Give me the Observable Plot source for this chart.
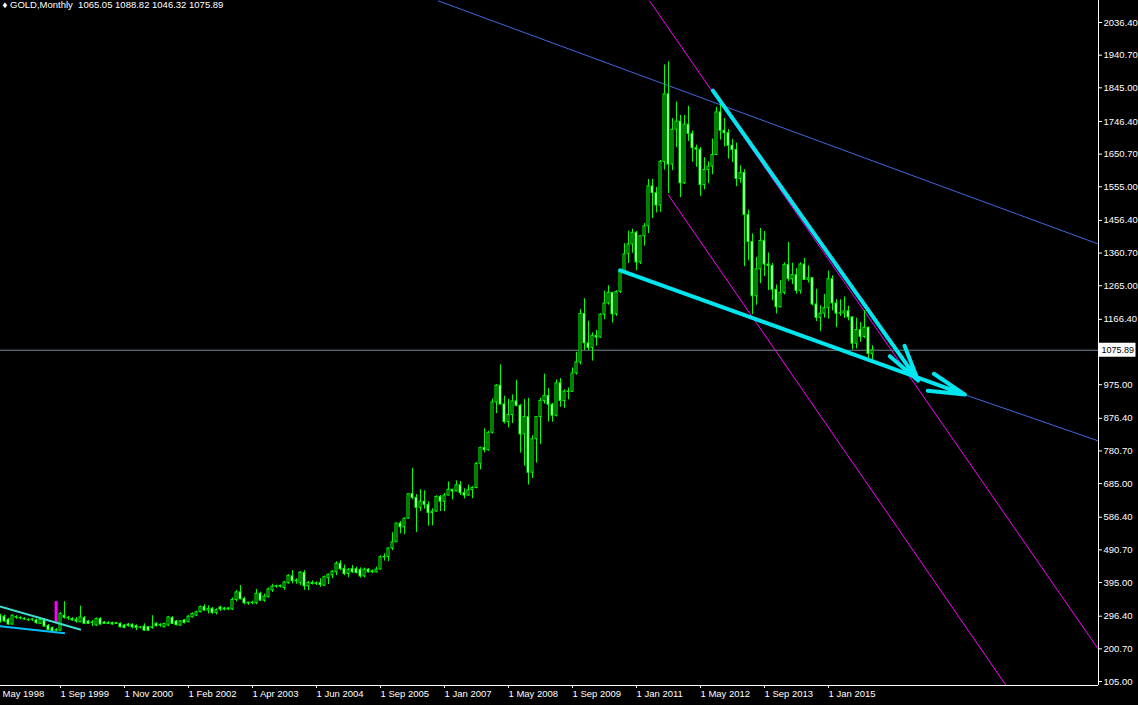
<!DOCTYPE html>
<html><head><meta charset="utf-8">
<script src="https://cdn.jsdelivr.net/npm/d3@7"></script>
<script src="https://cdn.jsdelivr.net/npm/@observablehq/plot@0.6"></script>
<style>
html,body{margin:0;padding:0;background:#000;}
#chart{width:1138px;height:705px;overflow:hidden;}
</style></head><body><div id="chart"></div>
<script>
// ---- data ----
const symbol = "GOLD,Monthly";
const firstBar = -1; // bar index of the first value below
const opens = [
 298,295,286,272,292,291,289,284,286,284,274,
 284,268,261,256,254,298,292,288,286,279,
 291,281,278,269,288,278,277,276,276,274,
 269,272,271,267,263,266,264,262,274,271,
 264,269,291,281,269,284,279,293,298,308,
 323,313,318,306,322,316,319,316,344,366,
 347,334,336,334,362,342,352,372,383,385,
 379,393,413,399,393,423,384,394,391,393,
 386,408,416,425,450,435,420,434,434,432,
 413,433,425,425,433,469,470,495,513,568,
 557,582,654,643,614,632,623,599,603,646,
 632,650,667,662,680,657,650,666,672,743,
 789,783,834,923,972,917,865,886,926,913,
 829,880,717,815,880,927,942,916,884,979,
 927,955,954,1008,1040,1182,1096,1083,1118,1113,
 1180,1213,1244,1181,1247,1307,1357,1386,1420,1333,
 1410,1439,1556,1536,1500,1628,1826,1620,1722,1746,
 1565,1737,1710,1668,1664,1560,1604,1614,1648,1773,
 1719,1712,1675,1663,1578,1595,1472,1393,1234,1313,
 1396,1327,1323,1253,1202,1244,1326,1284,1296,1250,
 1327,1282,1287,1210,1171,1183,1199,1284,1213,1183,
 1184,1190,1172,1095,1135,1115,1142,1065.05
];
const highs = [
 302,300,290,300,298,295,292,289,290,288,290,
 290,272,265,260,307,339,296,292,292,326,
 296,284,284,291,292,281,280,279,278,277,
 272,275,274,271,266,274,266,298,277,274,
 275,296,295,284,283,287,298,306,311,326,
 330,327,322,318,326,322,321,350,372,386,
 352,338,340,375,367,361,379,390,387,388,
 398,418,430,406,427,430,398,400,397,406,
 414,420,430,456,459,446,436,445,440,438,
 437,436,432,440,474,479,496,541,569,574,
 584,655,730,653,667,664,632,611,649,650,
 656,690,668,693,691,670,681,676,746,792,
 846,838,933,975,1033,941,932,945,988,917,
 931,935,825,881,935,1006,964,920,989,993,
 960,965,1024,1070,1195,1227,1161,1127,1134,1183,
 1249,1265,1245,1250,1310,1388,1425,1431,1424,1411,
 1447,1576,1577,1553,1632,1912,1921,1755,1803,1764,
 1764,1791,1718,1677,1670,1640,1628,1695,1788,1796,
 1755,1723,1694,1683,1616,1605,1487,1417,1348,1433,
 1424,1361,1330,1267,1280,1332,1392,1331,1315,1332,
 1345,1323,1288,1255,1206,1239,1308,1294,1224,1224,
 1232,1205,1174,1170,1157,1192,1143,1088.82
];
const lows = [
 276,278,270,270,287,286,284,281,281,273,272,
 264,254,250,251,252,288,284,282,276,277,
 272,272,266,266,270,272,272,270,272,262,
 260,264,259,254,259,252,252,258,265,264,
 262,266,272,268,267,274,277,291,296,306,
 310,303,302,300,310,312,313,313,338,344,
 330,328,330,330,340,337,350,366,378,379,
 372,390,391,390,386,372,371,388,386,381,
 384,389,406,415,430,415,409,422,420,408,
 409,423,421,423,432,458,456,489,513,538,
 535,580,638,542,603,610,560,561,601,603,
 603,649,637,661,650,640,648,641,670,725,
 775,780,830,890,914,860,848,861,910,774,
 736,681,700,745,800,918,866,865,880,909,
 905,931,953,1003,1033,1075,1075,1044,1088,1111,
 1165,1208,1156,1175,1242,1306,1330,1360,1309,1327,
 1381,1418,1462,1478,1480,1604,1535,1602,1670,1523,
 1562,1688,1627,1612,1527,1546,1564,1590,1646,1692,
 1672,1636,1626,1555,1565,1321,1338,1180,1208,1271,
 1292,1251,1221,1182,1200,1238,1277,1268,1240,1240,
 1281,1273,1206,1160,1131,1170,1167,1191,1142,1175,
 1169,1162,1077,1080,1099,1110,1052,1046.32
];
const closes = [
 279,281,272,298,294,290,287,285,287,276,286,
 266,256,252,254,303,292,290,284,281,293,
 274,274,277,288,272,274,274,272,274,264,
 262,268,264,262,264,254,254,264,267,269,
 274,293,274,270,281,276,295,303,308,323,
 313,318,306,314,316,319,316,344,366,346,
 334,336,335,362,342,354,375,383,385,383,
 395,415,399,401,424,384,394,391,393,388,
 411,418,427,450,434,420,432,425,423,413,
 433,425,428,433,469,470,495,513,568,557,
 582,654,643,614,632,623,599,603,646,632,
 650,667,662,680,657,650,666,672,743,789,
 783,834,923,972,917,865,886,926,913,829,
 880,717,815,880,927,942,916,884,979,927,
 955,954,1008,1040,1182,1096,1083,1118,1113,1180,
 1213,1244,1181,1247,1307,1357,1386,1420,1333,1410,
 1439,1556,1536,1500,1628,1826,1620,1722,1746,1565,
 1737,1710,1668,1664,1560,1604,1614,1648,1773,1719,
 1712,1675,1663,1578,1595,1472,1393,1234,1313,1396,
 1327,1323,1253,1202,1244,1326,1284,1296,1250,1327,
 1282,1287,1210,1171,1183,1199,1284,1213,1183,1184,
 1190,1172,1095,1135,1115,1142,1065,1075.89
];
// date labels on the time axis and the bar each one marks
const tickBars = [-2,14,30,46,62,78,94,110,126,142,158,174,190,206];
const tickLabels = ["May 1998","1 Sep 1999","1 Nov 2000","1 Feb 2002","1 Apr 2003","1 Jun 2004",
  "1 Sep 2005","1 Jan 2007","1 May 2008","1 Sep 2009","1 Jan 2011","1 May 2012","1 Sep 2013","1 Jan 2015"];
const priceTicks = [2036.40,1940.70,1845.00,1746.40,1650.70,1555.00,1456.40,1360.70,1265.00,1166.40,
  975.00,876.40,780.70,685.00,586.40,490.70,395.00,296.40,200.70,105.00];
// drawn objects, in (bar, price)
const channelLines = [{k1:108.4,p1:2100,k2:273.5,p2:1387},{k1:227.6,p1:996,k2:273.5,p2:810}];
const fanLines = [{k1:161.25,p1:2100,k2:273.5,p2:199},{k1:165.9,p1:1532,k2:250.4,p2:93.3}];
const wedgeArrows = [{k1:177.1,p1:1837,k2:228.4,p2:987},{k1:153.9,p1:1310,k2:240.1,p2:946}];
const oldUpperLine = [{k1:-1.2,p1:325,k2:19.1,p2:256.5}];
const oldLowerLine = [{k1:-1.2,p1:267,k2:15.1,p2:246.6}];
const markerBar = [{k:12.9,p1:275,p2:339}];

// ---- build ----
const bars = opens.map((o,i)=>({k:i+firstBar,o,h:highs[i],l:lows[i],c:closes[i]}));
const last = bars[bars.length-1];
const xDomain = [-1, 273.5];
const yDomain = [93.28, 2100.9];
const axisTicks = tickBars.slice(1).map(k=>k-0.5);
const labelFor = new Map(axisTicks.map((t,i)=>[t, tickLabels[i+1]]));
const header = `\u2666 ${symbol}  ${last.o.toFixed(2)} ${last.h.toFixed(2)} ${last.l.toFixed(2)} ${last.c.toFixed(2)}`;
const FS = 9.5;

const chart = Plot.plot({
  width:1138, height:705,
  marginLeft:0, marginRight:40, marginTop:0, marginBottom:20,
  style:{background:"#000", color:"#fff", fontFamily:"'Liberation Sans', Arial, sans-serif", fontSize:"9.5px"},
  x:{domain:xDomain},
  y:{domain:yDomain},
  marks:[
    Plot.ruleY([last.c], {stroke:"#778899", strokeWidth:1}),
    Plot.link(channelLines, {x1:"k1",y1:"p1",x2:"k2",y2:"p2", stroke:"#4169e1", strokeWidth:1}),
    Plot.link(fanLines, {x1:"k1",y1:"p1",x2:"k2",y2:"p2", stroke:"#ff00ff", strokeWidth:1}),
    Plot.ruleX(bars, {x:"k", y1:"l", y2:"h", stroke:"#00ff00", strokeWidth:1}),
    Plot.rect(bars, {x1:d=>d.k-0.25, x2:d=>d.k+0.25, y1:"o", y2:"c",
      fill:d=>d.c<d.o?"#ffffff":"#000000", stroke:"#00ff00", strokeWidth:1}),
    Plot.ruleX(markerBar, {x:"k", y1:"p1", y2:"p2", stroke:"#ff00ff", strokeWidth:3}),
    Plot.link(oldUpperLine, {x1:"k1",y1:"p1",x2:"k2",y2:"p2", stroke:"#40e0d0", strokeWidth:2}),
    Plot.link(oldLowerLine, {x1:"k1",y1:"p1",x2:"k2",y2:"p2", stroke:"#00bfff", strokeWidth:2}),
    Plot.arrow(wedgeArrows, {x1:"k1",y1:"p1",x2:"k2",y2:"p2", stroke:"#00e5ee", strokeWidth:4,
      headLength:14, headAngle:28}),
    Plot.ruleX([xDomain[1]], {stroke:"#fff", strokeWidth:1}),
    Plot.ruleY([yDomain[0]], {stroke:"#fff", strokeWidth:1}),
    Plot.axisY(priceTicks, {anchor:"right", tickSize:3, tickPadding:2, label:null,
      tickFormat:d=>d.toFixed(2), fontSize:FS}),
    Plot.axisX(axisTicks, {anchor:"bottom", tickSize:3, tickPadding:2, label:null,
      tickFormat:d=>labelFor.get(d), textAnchor:"start", dx:2, fontSize:FS}),
    Plot.text([tickLabels[0]], {x:()=>xDomain[0], y:()=>yDomain[0], text:d=>d, textAnchor:"start",
      lineAnchor:"top", dx:2, dy:5, fill:"#fff", fontSize:FS}),
    Plot.rect([last.c], {x1:()=>xDomain[1], x2:()=>xDomain[1], y1:d=>d, y2:d=>d,
      insetLeft:1, insetRight:-37.5, insetTop:-7, insetBottom:-7, fill:"#fff"}),
    Plot.text([last.c], {x:()=>xDomain[1], y:d=>d, text:d=>d.toFixed(2), textAnchor:"start",
      dx:3, fill:"#000", fontSize:9}),
    Plot.text([header], {frameAnchor:"top-left", text:d=>d, dx:2, dy:1, lineAnchor:"top",
      textAnchor:"start", fill:"#fff", fontSize:FS})
  ]
});
document.getElementById("chart").append(chart);
</script>
</body></html>
